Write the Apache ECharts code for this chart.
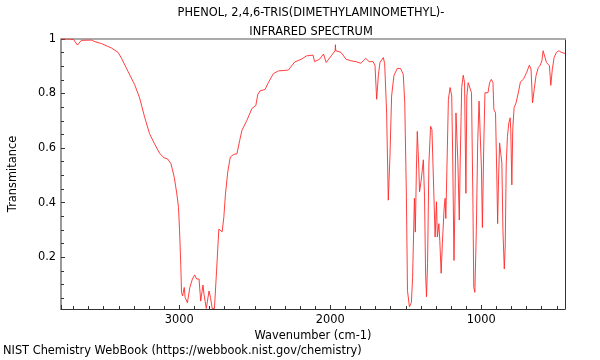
<!DOCTYPE html>
<html>
<head>
<meta charset="utf-8">
<script src="https://cdn.jsdelivr.net/npm/echarts@6/dist/echarts.min.js"></script>
<style>html,body{margin:0;padding:0;background:#fff;}#c{width:600px;height:360px;}</style>
</head>
<body>
<div id="c"></div>
<script>
var titleLines = ['PHENOL, 2,4,6-TRIS(DIMETHYLAMINOMETHYL)-', 'INFRARED SPECTRUM'];
var xAxisTitle = 'Wavenumber (cm-1)';
var yAxisTitle = 'Transmitance';
var footer = 'NIST Chemistry WebBook (https://webbook.nist.gov/chemistry)';
var xRange = [446, 3783];
var yRange = [0.01, 1];

var wavenumber = [3783,3733,3700,3674,3648,3582,3558,3514,3449,3405,3383,3339,3295,3262,3230,3197,3164,3131,3103,3077,3055,3033,3016,3005,2998,2990,2985,2978,2967,2961,2946,2930,2913,2898,2885,2869,2858,2843,2836,2821,2803,2793,2782,2767,2753,2738,2727,2716,2705,2694,2679,2662,2639,2618,2600,2585,2552,2519,2493,2480,2465,2432,2410,2377,2344,2278,2235,2191,2158,2114,2104,2071,2045,2027,1994,1968,1966,1964,1929,1896,1863,1830,1798,1765,1743,1717,1704,1693,1682,1671,1649,1640,1627,1616,1605,1594,1579,1557,1535,1517,1507,1496,1489,1476,1463,1455,1443,1437,1430,1424,1415,1409,1398,1384,1376,1369,1363,1356,1347,1336,1327,1317,1306,1297,1291,1281,1275,1266,1258,1247,1240,1235,1227,1218,1207,1196,1189,1181,1174,1168,1161,1155,1146,1140,1130,1120,1111,1102,1096,1087,1076,1065,1056,1050,1043,1033,1024,1015,1009,999,993,984,976,966,956,945,934,923,917,906,897,892,886,879,872,864,857,848,842,835,827,818,809,805,798,792,783,770,753,741,722,700,682,671,661,650,638,623,610,599,591,579,569,558,549,540,530,518,503,486,471,458,446];
var transmittance = [1.0,1.0,0.998,0.978,0.995,0.996,0.99,0.983,0.967,0.951,0.93,0.881,0.832,0.783,0.715,0.653,0.616,0.582,0.565,0.56,0.543,0.493,0.432,0.383,0.297,0.174,0.07,0.058,0.089,0.052,0.033,0.089,0.12,0.135,0.12,0.12,0.039,0.098,0.064,0.012,0.076,0.052,0.012,0.012,0.15,0.303,0.309,0.293,0.346,0.432,0.512,0.567,0.577,0.579,0.628,0.665,0.702,0.745,0.756,0.797,0.81,0.815,0.84,0.873,0.883,0.886,0.916,0.926,0.938,0.941,0.917,0.926,0.945,0.914,0.938,0.957,0.979,0.957,0.951,0.926,0.92,0.917,0.911,0.929,0.917,0.917,0.904,0.779,0.865,0.914,0.932,0.91,0.729,0.409,0.569,0.791,0.865,0.892,0.892,0.871,0.766,0.42,0.077,0.018,0.034,0.126,0.416,0.292,0.52,0.661,0.545,0.44,0.483,0.557,0.42,0.139,0.055,0.176,0.545,0.68,0.668,0.483,0.274,0.403,0.274,0.323,0.262,0.141,0.25,0.372,0.416,0.342,0.545,0.779,0.822,0.791,0.545,0.188,0.42,0.729,0.735,0.545,0.336,0.545,0.822,0.867,0.84,0.434,0.791,0.84,0.843,0.803,0.42,0.089,0.071,0.298,0.62,0.772,0.77,0.52,0.309,0.606,0.803,0.8,0.803,0.84,0.852,0.84,0.742,0.729,0.483,0.323,0.483,0.619,0.625,0.545,0.298,0.157,0.237,0.545,0.643,0.692,0.711,0.668,0.465,0.668,0.748,0.766,0.809,0.843,0.852,0.877,0.904,0.89,0.766,0.815,0.865,0.895,0.904,0.92,0.957,0.951,0.914,0.92,0.902,0.83,0.889,0.932,0.951,0.957,0.951,0.947,0.947];

var FONT = 'DejaVu Sans';
var FS = 11.4;
var pairs = wavenumber.map(function (w, i) { return [w, transmittance[i]]; });

var chart = echarts.init(document.getElementById('c'), null, {renderer: 'canvas'});
chart.setOption({
  animation: false,
  backgroundColor: '#ffffff',
  title: [
    {text: titleLines.join('\n'), left: 311, top: 4, textAlign: 'center', padding: 0,
     textStyle: {fontFamily: FONT, fontSize: FS, fontWeight: 'normal', color: '#000', lineHeight: 18.5}},
    {text: footer, left: 3, top: 346, padding: 0,
     textStyle: {fontFamily: FONT, fontSize: FS, fontWeight: 'normal', color: '#000'}}
  ],
  grid: {left: 57, right: 35, top: 39, bottom: 51, containLabel: false},
  xAxis: [{
    type: 'value', inverse: true, min: xRange[0], max: xRange[1], splitNumber: 3,
    name: xAxisTitle, nameLocation: 'middle', nameGap: 17,
    nameTextStyle: {fontFamily: FONT, fontSize: FS, color: '#000'},
    axisLine: {show: true, lineStyle: {color: '#333', width: 1}},
    axisTick: {show: true, inside: true, length: 4, lineStyle: {color: '#333'}},
    minorTick: {show: true, splitNumber: 10, length: 3, lineStyle: {color: '#333'}},
    axisLabel: {showMinLabel: false, showMaxLabel: false, margin: 6, fontFamily: FONT, fontSize: FS, color: '#000',
      formatter: function (v) { return String(Math.round(v)); }},
    splitLine: {show: false}, minorSplitLine: {show: false}
  }, {
    type: 'value', inverse: true, min: xRange[0], max: xRange[1], position: 'top',
    axisLine: {show: true, lineStyle: {color: '#aaa', width: 2}},
    axisTick: {show: false}, axisLabel: {show: false}, splitLine: {show: false}
  }],
  yAxis: [{
    type: 'value', min: yRange[0], max: yRange[1], splitNumber: 5,
    name: yAxisTitle, nameLocation: 'middle', nameGap: 42,
    nameTextStyle: {fontFamily: FONT, fontSize: FS, color: '#000'},
    axisLine: {show: true, lineStyle: {color: '#777', width: 1.5}},
    axisTick: {show: true, inside: true, length: 4, lineStyle: {color: '#333'}},
    minorTick: {show: true, splitNumber: 4, length: 3, lineStyle: {color: '#333'}},
    axisLabel: {showMinLabel: false, margin: 5, fontFamily: FONT, fontSize: FS, color: '#000'},
    splitLine: {show: false}
  }, {
    type: 'value', min: yRange[0], max: yRange[1], position: 'right',
    axisLine: {show: true, lineStyle: {color: '#333', width: 1}},
    axisTick: {show: false}, axisLabel: {show: false}, splitLine: {show: false}
  }],
  series: [{
    type: 'line', xAxisIndex: 0, yAxisIndex: 0, data: pairs,
    showSymbol: false, symbol: 'none', clip: true,
    lineStyle: {color: '#ff2a2a', width: 0.9}
  }]
});
</script>
</body>
</html>
